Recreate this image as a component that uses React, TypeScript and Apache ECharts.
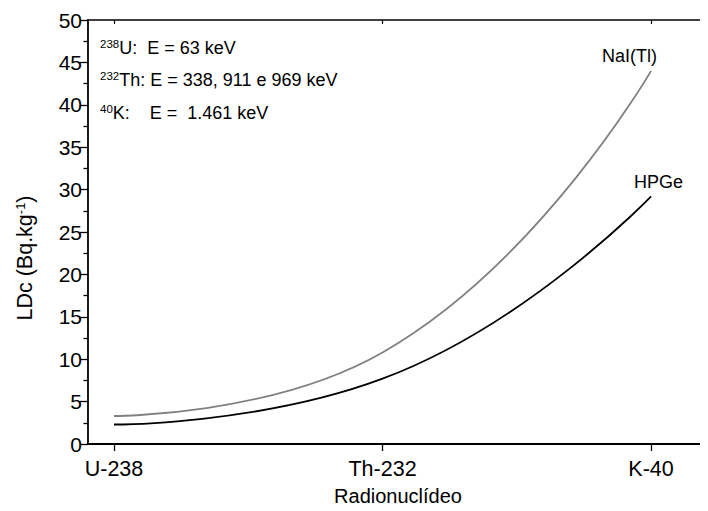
import React, { useEffect, useRef } from "react";
import * as echarts from "echarts";

const categories = ["U-238", "Th-232", "K-40"];
const naiValues = [3.3, 10.8, 44.0];
const hpgeValues = [2.3, 7.7, 29.2];
const yTicks = { min: 0, max: 50, interval: 5 };

const FONT = "Liberation Sans, Arial, sans-serif";

const supRich = {
  a: { fontSize: 18, fill: "#000", fontFamily: FONT },
  s: { fontSize: 11.5, fill: "#000", fontFamily: FONT, verticalAlign: "top", padding: [0, 0, 7, 0] },
};

export default function App() {
  const ref = useRef<HTMLDivElement>(null);
  useEffect(() => {
    if (!ref.current) return;
    const chart = echarts.init(ref.current, null, { renderer: "svg" });
    const xIdx = categories.map((_, i) => i);
    const nai = naiValues.map((v, i) => [i, v]);
    const hpge = hpgeValues.map((v, i) => [i, v]);
    chart.setOption({
      animation: false,
      textStyle: { fontFamily: FONT },
      grid: { left: 80, right: 0, top: 12, bottom: 54 },
      xAxis: [
        {
          type: "value",
          min: -0.0968,
          max: 2.212,
          position: "bottom",
          axisLine: { show: true, onZero: false, lineStyle: { color: "#000", width: 1.8 } },
          axisTick: { show: true, customValues: xIdx, length: 7, inside: false, lineStyle: { color: "#000", width: 1.3 } },
          axisLabel: {
            customValues: xIdx,
            formatter: (v: number) => categories[Math.round(v)] ?? "",
            color: "#000",
            fontSize: 21.5,
            margin: 14,
            fontFamily: FONT,
          },
          splitLine: { show: false },
          name: "Radionuclídeo",
          nameLocation: "middle",
          nameGap: 42,
          nameTextStyle: { color: "#000", fontSize: 20, fontFamily: FONT },
        },
        {
          type: "value",
          min: -0.0968,
          max: 2.212,
          position: "top",
          axisLine: { show: true, onZero: false, lineStyle: { color: "#000", width: 1.5 } },
          axisTick: { show: true, customValues: xIdx, length: 4, inside: true, lineStyle: { color: "#000", width: 1.2 } },
          axisLabel: { show: false },
          splitLine: { show: false },
        },
      ],
      yAxis: {
        type: "value",
        min: yTicks.min,
        max: yTicks.max,
        interval: yTicks.interval,
        axisLine: { show: true, onZero: false, lineStyle: { color: "#000", width: 1.8 } },
        axisTick: { show: true, length: 8, lineStyle: { color: "#000", width: 1.3 } },
        minorTick: { show: true, splitNumber: 2, length: 4.5, lineStyle: { color: "#000", width: 1.3 } },
        axisLabel: { color: "#000", fontSize: 21, margin: 6, fontFamily: FONT },
        splitLine: { show: false },
      },
      series: [
        {
          name: "NaI(Tl)",
          type: "line",
          data: nai,
          smooth: 0.5,
          showSymbol: false,
          lineStyle: { color: "#808080", width: 1.8 },
          itemStyle: { color: "#808080" },
          z: 2,
        },
        {
          name: "HPGe",
          type: "line",
          data: hpge,
          smooth: 0.5,
          showSymbol: false,
          lineStyle: { color: "#000", width: 1.8 },
          itemStyle: { color: "#000" },
          z: 3,
        },
      ],
      graphic: [
        {
          type: "text",
          x: 17,
          y: 250,
          rotation: Math.PI / 2,
          style: {
            text: "{a|LDc (Bq.kg}{s|-1}{a|)}",
            align: "center",
            verticalAlign: "middle",
            rich: {
              a: { fontSize: 21.5, fill: "#000", fontFamily: FONT },
              s: { fontSize: 13, fill: "#000", fontFamily: FONT, verticalAlign: "top", padding: [0, 0, 9, 0] },
            },
          },
        },
        {
          type: "text",
          left: 92,
          top: 30,
          style: { text: "{s|238}{a|U:  E = 63 keV}", rich: supRich },
        },
        {
          type: "text",
          left: 92,
          top: 62,
          style: { text: "{s|232}{a|Th: E = 338, 911 e 969 keV}", rich: supRich },
        },
        {
          type: "text",
          left: 92,
          top: 95,
          style: { text: "{s|40}{a|K:    E =  1.461 keV}", rich: supRich },
        },
        {
          type: "text",
          left: 594,
          top: 39,
          style: { text: "NaI(Tl)", fontSize: 18, fill: "#000", fontFamily: FONT },
        },
        {
          type: "text",
          left: 626,
          top: 165,
          style: { text: "HPGe", fontSize: 18, fill: "#000", fontFamily: FONT },
        },
      ],
    });
    return () => chart.dispose();
  }, []);
  return <div ref={ref} style={{ width: 700, height: 503 }} />;
}
